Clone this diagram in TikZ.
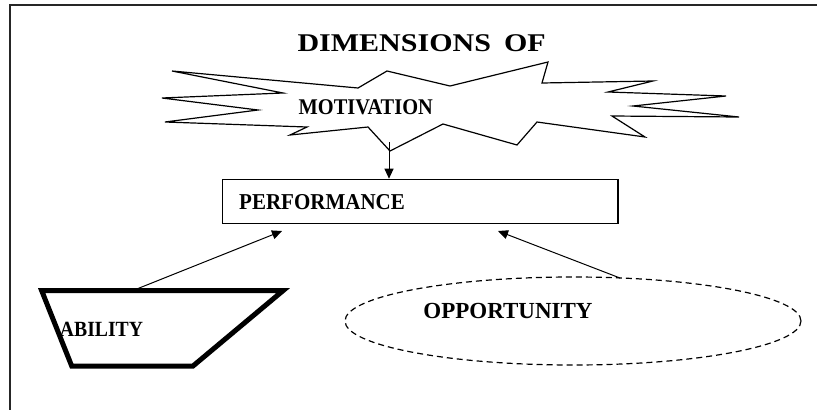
\documentclass[tikz,border=0pt]{standalone}
\usepackage{fontspec}
\setmainfont{Liberation Serif}
\usetikzlibrary{shapes.geometric,arrows.meta}
\begin{document}
\begin{tikzpicture}[x=1pt,y=-1pt,
  lbl/.style={inner sep=0pt, text=black},
  arr/.style={line width=1pt, -{Triangle[length=10pt,width=9pt]}},
  outline/.style={line width=1.2pt, line join=miter}
]
\useasboundingbox (0,0) rectangle (817,410);
\fill[white] (0,0) rectangle (817,410);
% frame
\draw[line width=1.6pt, color=black!85] (817,5) -- (10,5) -- (10,410);

% title
\node[lbl, font=\bfseries\fontsize{25pt}{28pt}\selectfont] (title) at (421.7,43.4)
  {\scalebox{1.2}[1.02]{DIMENSIONS\hspace{11pt}OF}};

% motivation explosion
\draw[outline] (172,71) -- (358,88) -- (387,71) -- (450,86) -- (548,62) -- (542,83)
  -- (653,81) -- (608,92) -- (726,96) -- (633,106) -- (739,117) -- (612,116)
  -- (645,137) -- (537,122) -- (517,145) -- (443,124) -- (390,151) -- (368,127)
  -- (290,135) -- (307,127) -- (165,122) -- (258,110) -- (162,98) -- (283,93) -- cycle;
\node[lbl, font=\bfseries\fontsize{20.4pt}{24pt}\selectfont] (motiv) at (365.8,107.5) {\scalebox{1}[1.1]{MOTIVATION}};
\coordinate (mstart) at (389,142);

% performance
\node[draw, outline, minimum width=395.3pt, minimum height=44pt, inner sep=0pt] (perf) at (420.35,201.3) {};
\node[lbl, font=\bfseries\fontsize{21pt}{24pt}\selectfont, anchor=west] (perftext) at (239,202.5) {\scalebox{1}[1.08]{PERFORMANCE}};

% ability trapezoid
\coordinate (a1) at (41.7,290.7);
\coordinate (a2) at (283,290.7);
\coordinate (a3) at (193,366);
\coordinate (a4) at (71.7,366);
\draw[line width=5pt, line join=miter] (a1) -- (a2) -- (a3) -- (a4) -- cycle;
\node[lbl, font=\bfseries\fontsize{19.7pt}{24pt}\selectfont] (abil) at (101.5,329) {\scalebox{1}[1.1]{ABILITY}};
\coordinate (astart) at (138,288.5);

% opportunity ellipse
\node[ellipse, draw, line width=1.2pt, dash pattern=on 6pt off 4pt, minimum width=456pt, minimum height=88pt, inner sep=0pt] (opp) at (573,321) {};
\node[lbl, font=\bfseries\fontsize{23pt}{26pt}\selectfont] (opptext) at (508,310.5) {\scalebox{1}[1.0]{OPPORTUNITY}};
\coordinate (ostart) at (620,278);

% arrow tips below performance
\coordinate (pl) at (282,231);
\coordinate (pr) at (498,231);

% connectors
\draw[arr] (mstart) -- (mstart |- perf.north);
\draw[arr] (astart) -- (pl);
\draw[arr] (ostart) -- (pr);
\end{tikzpicture}
\end{document}
